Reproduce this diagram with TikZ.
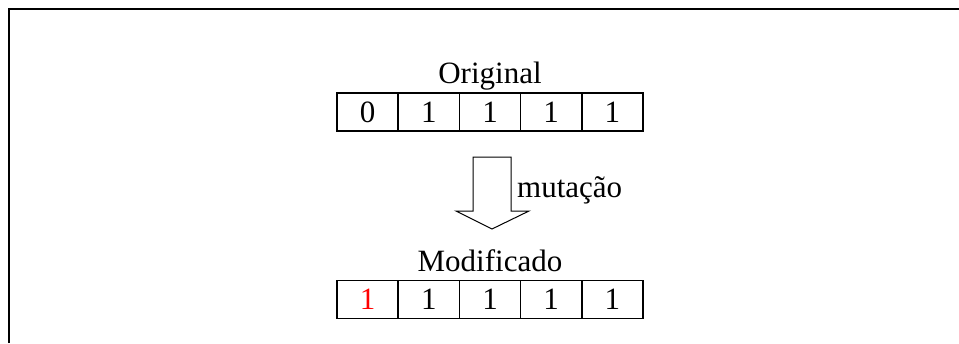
\documentclass[tikz,border=0pt]{standalone}
\usepackage{fontspec}
\setmainfont{Liberation Serif}
\begin{document}
\begin{tikzpicture}[x=1pt,y=-1pt,
  cell/.style={draw,line width=1.7pt,minimum width=61.2pt,minimum height=38pt,inner sep=0pt,font=\fontsize{31}{36}\selectfont},
  lbl/.style={anchor=base,inner sep=0pt,font=\fontsize{31}{36}\selectfont}]
\useasboundingbox (0,0) rectangle (959,343);
\draw[line width=2pt] (9,343) -- (9,9) -- (959,9);
% original row
\foreach \i/\v in {0/0,1/1,2/1,3/1,4/1}{
  \node[cell] (o\i) at (367.6+61.2*\i,112) {\v};
}
\node[lbl] (orig) at (490,83) {Original};
% modified row
\foreach \i/\v in {0/{\color{red}1},1/1,2/1,3/1,4/1}{
  \node[cell] (m\i) at (367.6+61.2*\i,299.5) {\v};
}
\node[lbl] (mod) at (490,271) {Modificado};
% block arrow
\draw[line width=1pt,line join=miter] (473,157) -- (511,157) -- (511,211) -- (529,211) -- (492,229) -- (456,211) -- (473,211) -- cycle;
\node[lbl,anchor=base west] (mut) at (517,197) {mutação};
\end{tikzpicture}
\end{document}
